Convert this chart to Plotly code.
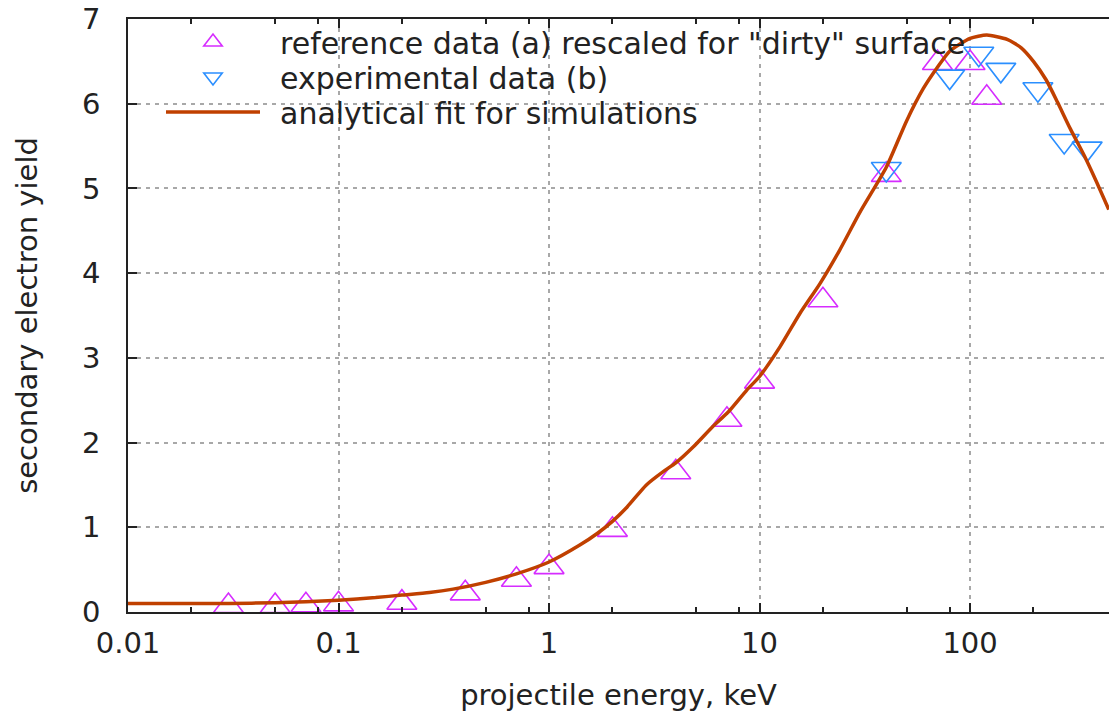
import plotly.graph_objects as go

# --- data ---
E_fit = [0.01, 0.02, 0.03, 0.05, 0.07, 0.1, 0.15, 0.2, 0.27, 0.35, 0.5, 0.7, 1.0, 1.4, 1.7,
         2.0, 2.35, 2.9, 3.5, 4.0, 4.85, 6.0, 7.1, 8.7, 10, 12.5, 15.6, 19.4, 24, 30, 40,
         50, 60, 70, 80, 100, 120, 150, 175, 200, 230, 260, 300, 350, 400, 456]
Y_fit = [0.10, 0.10, 0.10, 0.11, 0.12, 0.14, 0.17, 0.20, 0.23, 0.27, 0.35, 0.45, 0.59, 0.79, 0.93,
         1.07, 1.24, 1.50, 1.66, 1.76, 1.95, 2.19, 2.36, 2.62, 2.78, 3.13, 3.53, 3.88, 4.27, 4.72, 5.25,
         5.80, 6.18, 6.43, 6.62, 6.77, 6.81, 6.76, 6.66, 6.50, 6.28, 6.02, 5.70, 5.38, 5.07, 4.75]

E_ref = [0.03, 0.05, 0.07, 0.1, 0.2, 0.4, 0.7, 1, 2, 4, 7, 10, 20, 40, 70, 100, 120]
Y_ref = [0.07, 0.07, 0.08, 0.09, 0.11, 0.22, 0.38, 0.53, 0.97, 1.65, 2.27, 2.72, 3.68, 5.16, 6.48, 6.48, 6.07]

E_exp = [40, 80, 110, 140, 210, 280, 360]
Y_exp = [5.23, 6.32, 6.59, 6.40, 6.17, 5.56, 5.47]

x_major = [0.01, 0.1, 1, 10, 100]
x_major_labels = ["0.01", "0.1", "1", "10", "100"]
x_minor = [0.02, 0.05, 0.08, 0.2, 0.5, 0.8, 2, 5, 8, 20, 50, 80, 200]
y_ticks = [0, 1, 2, 3, 4, 5, 6, 7]

names = ['reference data (a) rescaled for "dirty" surface',
         'experimental data (b)',
         'analytical fit for simulations']

FONT = "DejaVu Sans, Verdana, sans-serif"
FS = 29
LFS = 30
TXT = "#222"
W, H = 1109, 719
ML, MR, MT, MB = 128, 0, 19, 107
PW, PH = W - ML - MR, H - MT - MB


def px_x(p):
    return (p - ML) / PW


def px_y(p):
    return (H - MB - p) / PH


fig = go.Figure()
fig.add_trace(go.Scatter(
    x=E_ref, y=Y_ref, mode="markers", name="\u2002" + names[0], legend="legend",
    marker=dict(symbol="triangle-up-open", size=26, color="#d62cff", line=dict(width=1.6, color="#d62cff")),
))
fig.add_trace(go.Scatter(
    x=E_exp, y=Y_exp, mode="markers", name="\u2002" + names[1], legend="legend2",
    marker=dict(symbol="triangle-down-open", size=26, color="#2b8fff", line=dict(width=1.6, color="#2b8fff")),
))
fig.add_trace(go.Scatter(
    x=E_fit, y=Y_fit, mode="lines", name="\u2002" + names[2], legend="legend3",
    line=dict(color="#c04000", width=3.5, shape="spline", smoothing=0.6),
))

# white key box (gnuplot opaque key), between grid and data
fig.add_shape(type="rect", xref="paper", yref="paper",
              x0=0.0, x1=px_x(965), y0=px_y(130), y1=1.0,
              fillcolor="white", line=dict(width=0), layer="between")

axis_common = dict(
    showline=True, linecolor="#222", linewidth=1.5,
    ticks="inside", tickcolor="#222", tickwidth=1.5, ticklen=9,
    showgrid=True, gridcolor="#a8a8a8", gridwidth=1.5, griddash="4px,5px",
    zeroline=False,
    tickfont=dict(family=FONT, size=FS, color=TXT),
)

fig.update_xaxes(
    type="log", range=[-2, 2.66],
    tickvals=x_major, ticktext=x_major_labels,
    mirror="ticks",
    minor=dict(tickvals=x_minor, ticks="inside", ticklen=5, tickcolor="#222", tickwidth=1.5, showgrid=False),
    ticklabelstandoff=4,
    title=dict(text="projectile energy, keV", font=dict(family=FONT, size=FS, color=TXT), standoff=26),
    **axis_common,
)
fig.update_yaxes(
    range=[0, 7], tickvals=y_ticks,
    ticklabelstandoff=20,
    title=dict(text="secondary electron yield", font=dict(family=FONT, size=FS, color=TXT), standoff=36),
    **axis_common,
)

leg_common = dict(
    xanchor="left", yanchor="middle",
    bgcolor="rgba(0,0,0,0)", borderwidth=0,
    font=dict(family=FONT, size=LFS, color=TXT),
    itemwidth=94,
)
LX = px_x(161)
fig.update_layout(
    width=W, height=H,
    margin=dict(l=ML, r=MR, t=MT, b=MB, pad=0),
    plot_bgcolor="white", paper_bgcolor="white",
    font=dict(family=FONT, size=FS, color=TXT),
    showlegend=True,
    legend=dict(x=LX, y=px_y(42), **leg_common),
    legend2=dict(x=LX, y=px_y(77), **leg_common),
    legend3=dict(x=LX, y=px_y(112), **leg_common),
)

fig.write_html("out.html")
